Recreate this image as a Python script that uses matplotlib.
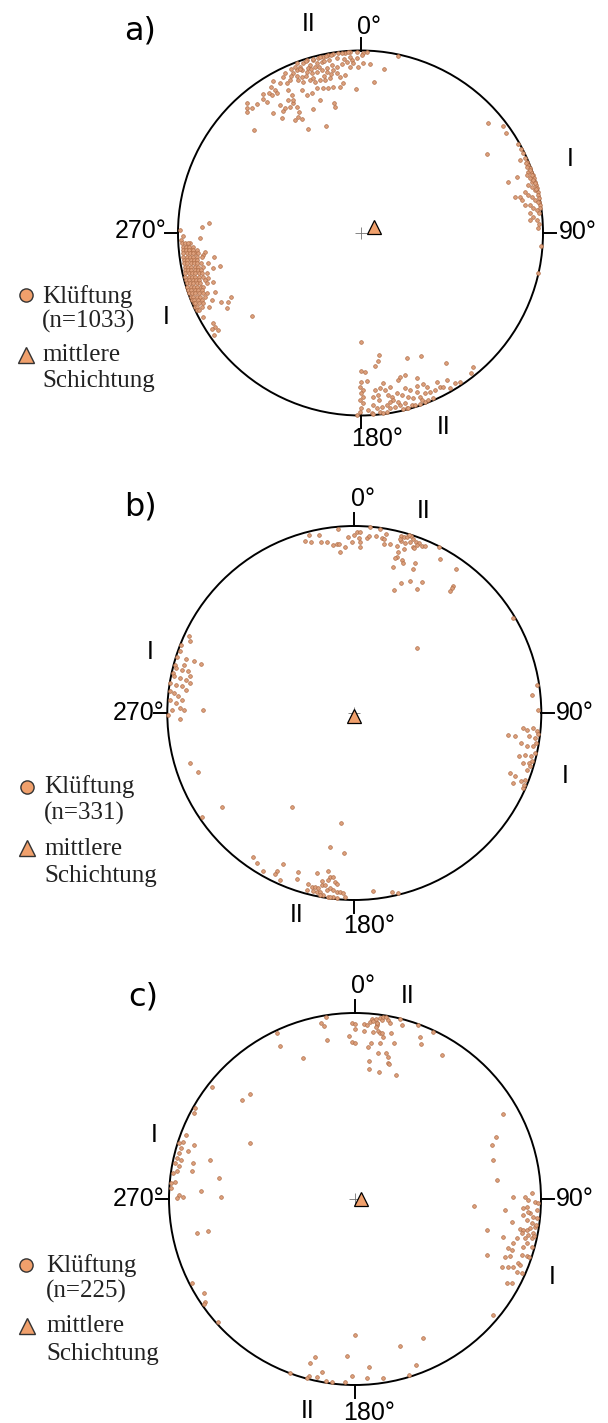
import matplotlib.pyplot as plt
from matplotlib.patches import Circle

# Polpunkte der Klüfte, Lambert-Netz (Ost, Nord), Radius 1 = Netzrand
joints_a = [
    # Gruppe II (N bis NW)
    (-0.584, 0.564), (-0.290, 0.572), (-0.189, 0.588), (0.207, 0.970), (0.129, 0.899), (0.074, 0.827),
    (-0.025, 0.789), (-0.143, 0.714), (-0.138, 0.692), (-0.258, 0.679), (-0.478, 0.656), (-0.428, 0.632),
    (-0.423, 0.670), (-0.620, 0.714), (-0.620, 0.687), (-0.620, 0.663), (-0.595, 0.683), (-0.569, 0.705),
    (-0.532, 0.760), (-0.532, 0.732), (-0.500, 0.765), (-0.489, 0.802), (-0.481, 0.831), (-0.468, 0.784),
    (-0.441, 0.701), (-0.414, 0.683), (-0.386, 0.692), (-0.368, 0.711), (-0.359, 0.619), (-0.341, 0.637),
    (-0.335, 0.665), (-0.350, 0.692), (-0.322, 0.626), (-0.377, 0.756), (-0.368, 0.729), (-0.399, 0.729),
    (-0.395, 0.784), (-0.405, 0.820), (-0.423, 0.857), (-0.414, 0.875), (-0.386, 0.838), (-0.368, 0.875),
    (-0.350, 0.893), (-0.332, 0.911), (-0.350, 0.930), (-0.313, 0.930), (-0.295, 0.948), (-0.277, 0.921),
    (-0.258, 0.948), (-0.231, 0.957), (-0.204, 0.966), (-0.176, 0.975), (-0.149, 0.981), (-0.121, 0.984),
    (-0.085, 0.988), (-0.058, 0.992), (-0.021, 0.992), (0.016, 0.988), (0.034, 0.990), (0.006, 0.975),
    (-0.021, 0.957), (-0.048, 0.948), (-0.076, 0.939), (-0.103, 0.926), (-0.131, 0.911), (-0.158, 0.921),
    (-0.185, 0.902), (-0.213, 0.893), (-0.240, 0.884), (-0.268, 0.875), (-0.295, 0.884), (-0.322, 0.857),
    (-0.341, 0.838), (-0.313, 0.829), (-0.277, 0.838), (-0.249, 0.829), (-0.222, 0.838), (-0.195, 0.838),
    (-0.167, 0.847), (-0.131, 0.875), (-0.112, 0.857), (-0.085, 0.866), (-0.094, 0.820), (-0.112, 0.802),
    (-0.149, 0.802), (-0.176, 0.793), (-0.204, 0.793), (-0.240, 0.793), (-0.268, 0.765), (-0.295, 0.756),
    (-0.322, 0.784), (-0.222, 0.729), (-0.185, 0.884), (-0.149, 0.893), (-0.249, 0.911), (-0.039, 0.930),
    (-0.012, 0.911), (0.016, 0.930), (0.052, 0.926), (-0.058, 0.911), (-0.213, 0.939), (-0.322, 0.893),
    (-0.286, 0.902), (-0.441, 0.820), (-0.459, 0.765), (-0.487, 0.756), (-0.511, 0.720),
    (-0.300, 0.940), (-0.260, 0.955), (-0.220, 0.965), (-0.190, 0.972), (-0.160, 0.978), (-0.100, 0.985),
    (-0.070, 0.990), (-0.240, 0.930), (-0.200, 0.940), (-0.170, 0.950), (-0.130, 0.960), (-0.090, 0.955),
    (-0.060, 0.965), (-0.270, 0.900), (-0.230, 0.910), (-0.330, 0.900), (-0.360, 0.910), (-0.380, 0.900),
    (-0.300, 0.860), (-0.260, 0.850), (-0.200, 0.860), (-0.160, 0.870), (-0.350, 0.860), (-0.380, 0.860),
    # Gruppe I (W)
    (-0.828, 0.057), (-0.868, 0.031), (-0.879, -0.029), (-0.989, 0.016), (-0.971, -0.016), (-0.985, -0.038),
    (-0.596, -0.453), (-0.710, -0.349), (-0.733, -0.413), (-0.724, -0.376), (-0.766, -0.376), (-0.770, -0.181),
    (-0.801, -0.130), (-0.810, -0.190), (-0.797, -0.321), (-0.806, -0.267), (-0.834, -0.248), (-0.816, -0.367),
    (-0.830, -0.404), (-0.861, -0.458), (-0.806, -0.495), (-0.797, -0.513), (-0.816, -0.528), (-0.779, -0.532),
    (-0.801, -0.559), (-0.852, -0.102), (-0.861, -0.121), (-0.834, -0.166), (-0.934, -0.057), (-0.953, -0.075),
    (-0.931, -0.093), (-0.907, -0.111),
    (-0.980, -0.057), (-0.962, -0.057), (-0.943, -0.057),
    (-0.974, -0.075), (-0.956, -0.075), (-0.938, -0.075), (-0.916, -0.075),
    (-0.974, -0.093), (-0.956, -0.093), (-0.938, -0.093), (-0.919, -0.093), (-0.897, -0.093),
    (-0.971, -0.111), (-0.953, -0.111), (-0.934, -0.111), (-0.916, -0.111), (-0.888, -0.111),
    (-0.971, -0.130), (-0.953, -0.130), (-0.934, -0.130), (-0.916, -0.130), (-0.897, -0.130), (-0.870, -0.130),
    (-0.967, -0.148), (-0.949, -0.148), (-0.931, -0.148), (-0.912, -0.148), (-0.894, -0.148),
    (-0.967, -0.166), (-0.949, -0.166), (-0.931, -0.166), (-0.912, -0.166), (-0.894, -0.166), (-0.875, -0.166),
    (-0.963, -0.184), (-0.945, -0.184), (-0.927, -0.184), (-0.908, -0.184), (-0.890, -0.184), (-0.861, -0.184),
    (-0.963, -0.203), (-0.945, -0.203), (-0.927, -0.203), (-0.908, -0.203), (-0.890, -0.203), (-0.872, -0.203),
    (-0.960, -0.221), (-0.940, -0.221), (-0.923, -0.221), (-0.905, -0.221), (-0.886, -0.221), (-0.868, -0.221),
    (-0.843, -0.221),
    (-0.960, -0.239), (-0.940, -0.239), (-0.923, -0.239), (-0.905, -0.239), (-0.886, -0.239), (-0.861, -0.239),
    (-0.956, -0.258), (-0.938, -0.258), (-0.919, -0.258), (-0.901, -0.258), (-0.883, -0.258), (-0.852, -0.258),
    (-0.953, -0.276), (-0.934, -0.276), (-0.916, -0.276), (-0.897, -0.276), (-0.879, -0.276), (-0.843, -0.276),
    (-0.949, -0.294), (-0.931, -0.294), (-0.912, -0.294), (-0.894, -0.294), (-0.875, -0.294), (-0.861, -0.294),
    (-0.945, -0.312), (-0.927, -0.312), (-0.908, -0.312), (-0.890, -0.312), (-0.870, -0.312),
    (-0.940, -0.331), (-0.923, -0.331), (-0.905, -0.331), (-0.886, -0.331), (-0.861, -0.331), (-0.843, -0.331),
    (-0.930, -0.349), (-0.916, -0.349), (-0.897, -0.349), (-0.879, -0.349), (-0.852, -0.349),
    (-0.925, -0.367), (-0.910, -0.367), (-0.892, -0.367), (-0.870, -0.367),
    (-0.915, -0.385), (-0.905, -0.385), (-0.886, -0.385), (-0.861, -0.385),
    (-0.905, -0.404), (-0.897, -0.404), (-0.870, -0.404),
    (-0.895, -0.422), (-0.883, -0.422),
    # Gruppe I (E)
    (0.700, 0.605), (0.783, 0.586), (0.797, 0.550), (0.691, 0.431), (0.810, 0.278), (0.856, 0.309),
    (0.847, 0.199), (0.874, 0.199), (0.883, 0.181), (0.892, 0.437), (0.880, 0.462), (0.865, 0.490),
    (0.901, 0.409), (0.911, 0.391), (0.920, 0.373), (0.929, 0.354), (0.936, 0.336), (0.945, 0.318),
    (0.950, 0.300), (0.955, 0.281), (0.960, 0.263), (0.965, 0.245), (0.970, 0.226), (0.975, 0.208),
    (0.978, 0.190), (0.980, 0.172), (0.982, 0.153), (0.985, 0.135), (0.920, 0.336), (0.911, 0.318),
    (0.929, 0.300), (0.938, 0.281), (0.920, 0.263), (0.938, 0.254), (0.956, 0.236), (0.901, 0.226),
    (0.920, 0.208), (0.938, 0.199), (0.956, 0.181), (0.970, 0.172), (0.901, 0.153), (0.929, 0.153),
    (0.947, 0.135), (0.965, 0.126), (0.980, 0.108), (0.929, 0.108), (0.947, 0.089), (0.965, 0.071),
    (0.980, 0.049), (0.929, 0.071), (0.975, 0.026), (0.990, -0.071), (0.970, -0.220), (0.911, 0.363),
    (0.905, 0.382), (0.930, 0.345), (0.940, 0.318), (0.945, 0.290), (0.955, 0.272), (0.960, 0.240),
    (0.874, 0.400),
    # Gruppe II (S bis SE)
    (0.001, -0.599), (0.101, -0.668), (0.098, -0.701), (0.079, -0.727), (0.253, -0.687), (0.332, -0.674),
    (0.468, -0.714), (0.618, -0.732), (0.604, -0.769), (0.001, -0.754), (0.025, -0.762), (0.001, -0.815),
    (0.034, -0.809), (-0.003, -0.842), (0.012, -0.860), (0.001, -0.879), (0.016, -0.900), (-0.003, -0.915),
    (0.012, -0.933), (0.001, -0.961), (-0.003, -0.979), (0.079, -0.860), (0.070, -0.897), (0.098, -0.888),
    (0.103, -0.915), (0.121, -0.824), (0.134, -0.860), (0.162, -0.842), (0.171, -0.897), (0.180, -0.915),
    (0.198, -0.879), (0.207, -0.806), (0.216, -0.787), (0.244, -0.778), (0.244, -0.851), (0.271, -0.860),
    (0.308, -0.796), (0.308, -0.869), (0.290, -0.906), (0.326, -0.897), (0.344, -0.827), (0.363, -0.842),
    (0.353, -0.879), (0.381, -0.869), (0.417, -0.815), (0.408, -0.860), (0.436, -0.842), (0.454, -0.842),
    (0.472, -0.806), (0.490, -0.851), (0.518, -0.820), (0.545, -0.815), (0.070, -0.942), (0.089, -0.961),
    (0.116, -0.952), (0.143, -0.942), (0.162, -0.961), (0.189, -0.952), (0.216, -0.942), (0.244, -0.933),
    (0.253, -0.961), (0.280, -0.942), (0.298, -0.945), (0.326, -0.935), (0.353, -0.925), (0.372, -0.915),
    (0.162, -0.924), (0.207, -0.924), (0.107, -0.979), (0.143, -0.979), (0.061, -0.988), (0.125, -0.985),
    (0.043, -0.970), (0.235, -0.965), (0.262, -0.960), (0.335, -0.915), (0.399, -0.906), (0.262, -0.897),
    (0.226, -0.888), (0.153, -0.888), (0.107, -0.851), (0.308, -0.838), (-0.021, -0.995), (0.070, -0.990),
]

joints_b = [
    # Gruppe II (N bis NE)
    (-0.240, 0.952), (-0.264, 0.922), (-0.232, 0.913), (-0.187, 0.952), (-0.180, 0.916), (-0.148, 0.913),
    (-0.112, 0.900), (-0.094, 0.902), (-0.080, 0.902), (-0.076, 0.863), (-0.050, 0.886), (-0.085, 0.982),
    (-0.032, 0.943), (-0.014, 0.916), (-0.002, 0.952), (0.016, 0.970), (0.030, 0.970), (0.027, 0.934),
    (0.030, 0.916), (0.030, 0.886), (0.066, 0.934), (0.080, 0.947), (0.084, 0.993), (0.116, 0.947),
    (0.137, 0.986), (0.146, 0.934), (0.159, 0.929), (0.170, 0.957), (0.159, 0.902), (0.191, 0.902),
    (0.227, 0.893), (0.235, 0.863), (0.230, 0.836), (0.253, 0.818), (0.262, 0.804), (0.218, 0.827),
    (0.209, 0.783), (0.248, 0.947), (0.266, 0.939), (0.283, 0.943), (0.301, 0.947), (0.248, 0.922),
    (0.271, 0.907), (0.298, 0.916), (0.312, 0.929), (0.330, 0.916), (0.348, 0.911), (0.316, 0.889),
    (0.333, 0.897), (0.360, 0.893), (0.378, 0.893), (0.266, 0.875), (0.319, 0.881), (0.324, 0.804),
    (0.312, 0.768), (0.455, 0.886), (0.458, 0.822), (0.542, 0.770), (0.298, 0.708), (0.248, 0.693),
    (0.212, 0.658), (0.337, 0.663), (0.360, 0.702), (0.530, 0.679), (0.521, 0.667), (0.512, 0.652),
    (0.290, 0.950), (0.244, 0.929),
    # Gruppe I (E)
    (0.851, 0.509), (0.333, 0.348), (0.975, 0.152), (0.948, 0.098), (0.985, 0.018), (0.820, -0.116),
    (0.861, -0.125), (0.903, -0.080), (0.923, -0.089), (0.954, -0.080), (0.975, -0.098), (0.934, -0.125),
    (0.965, -0.134), (0.985, -0.110), (0.892, -0.161), (0.923, -0.179), (0.954, -0.179), (0.970, -0.161),
    (0.882, -0.232), (0.913, -0.223), (0.944, -0.232), (0.965, -0.214), (0.903, -0.268), (0.934, -0.268),
    (0.950, -0.259), (0.940, -0.286), (0.923, -0.304), (0.830, -0.321), (0.861, -0.339), (0.892, -0.366),
    (0.915, -0.357), (0.851, -0.375), (0.900, -0.400), (0.905, -0.384),
    # Gruppe I (W)
    (-0.884, 0.414), (-0.880, 0.384), (-0.925, 0.366), (-0.932, 0.330), (-0.901, 0.289), (-0.859, 0.277),
    (-0.818, 0.263), (-0.960, 0.259), (-0.952, 0.241), (-0.921, 0.232), (-0.890, 0.223), (-0.970, 0.214),
    (-0.963, 0.196), (-0.932, 0.188), (-0.901, 0.179), (-0.880, 0.161), (-0.984, 0.161), (-0.952, 0.152),
    (-0.921, 0.143), (-0.901, 0.125), (-0.985, 0.116), (-0.963, 0.107), (-0.942, 0.089), (-0.921, 0.071),
    (-0.984, 0.071), (-0.952, 0.054), (-0.932, 0.027), (-0.911, 0.018), (-0.973, 0.018), (-0.994, -0.009),
    (-0.932, -0.032), (-0.807, 0.014), (-0.950, 0.300), (-0.911, 0.259), (-0.880, 0.196),
    # Streuung und Gruppe II (S bis SW)
    (-0.876, -0.268), (-0.834, -0.318), (-0.710, -0.500), (-0.331, -0.504), (-0.813, -0.557),
    (-0.073, -0.587), (-0.130, -0.718), (-0.053, -0.749), (-0.540, -0.768), (-0.522, -0.804), (-0.486, -0.843),
    (-0.379, -0.808), (-0.415, -0.843), (-0.424, -0.861), (-0.397, -0.893), (-0.299, -0.852), (-0.308, -0.889),
    (-0.201, -0.857), (-0.139, -0.843), (-0.130, -0.875), (-0.139, -0.893), (-0.116, -0.879), (-0.103, -0.902),
    (-0.094, -0.915), (-0.175, -0.897), (-0.175, -0.920), (-0.246, -0.915), (-0.228, -0.929), (-0.210, -0.929),
    (-0.192, -0.938), (-0.219, -0.950), (-0.201, -0.955), (-0.183, -0.955), (-0.157, -0.920), (-0.148, -0.947),
    (-0.130, -0.938), (-0.112, -0.947), (-0.094, -0.955), (-0.076, -0.955), (-0.059, -0.964), (-0.166, -0.973),
    (-0.139, -0.986), (-0.112, -0.982), (-0.094, -0.990), (-0.130, -0.985), (-0.183, -0.975), (-0.255, -0.947),
    (0.098, -0.950), (0.200, -0.955), (0.235, -0.961), (-0.050, -0.982),
]

joints_c = [
    # Gruppe II (N bis NE)
    (-0.156, 0.977), (-0.185, 0.944), (-0.167, 0.930), (-0.152, 0.855), (-0.278, 0.760), (-0.018, 0.948),
    (0.000, 0.941), (0.000, 0.912), (-0.030, 0.876), (-0.018, 0.846), (0.000, 0.837), (0.048, 0.941),
    (0.063, 0.935), (0.081, 0.953), (0.090, 0.966), (0.099, 0.959), (0.113, 0.966), (0.120, 0.948),
    (0.134, 0.971), (0.143, 0.962), (0.152, 0.980), (0.167, 0.977), (0.179, 0.962), (0.188, 0.948),
    (0.116, 0.935), (0.113, 0.923), (0.125, 0.905), (0.134, 0.894), (0.143, 0.891), (0.095, 0.900),
    (0.048, 0.905), (0.152, 0.873), (0.192, 0.894), (0.242, 0.966), (0.251, 0.935), (0.341, 0.935),
    (0.421, 0.900), (0.349, 0.873), (0.353, 0.833), (0.466, 0.774), (0.084, 0.840), (0.134, 0.837),
    (0.072, 0.815), (0.125, 0.787), (0.167, 0.787), (0.179, 0.765), (0.210, 0.840), (0.077, 0.744),
    (0.179, 0.733), (0.185, 0.726), (0.073, 0.699), (0.131, 0.681), (0.220, 0.668), (0.116, 0.944),
    # Streuung und Gruppe I (W)
    (-0.417, 0.892), (-0.402, 0.821), (-0.563, 0.566), (-0.610, 0.530), (-0.767, 0.600), (-0.860, 0.490),
    (-0.865, 0.462), (-0.567, 0.300),
    (-0.906, 0.345), (-0.927, 0.309), (-0.944, 0.300), (-0.938, 0.274), (-0.948, 0.247), (-0.958, 0.220),
    (-0.938, 0.211), (-0.969, 0.193), (-0.948, 0.175), (-0.958, 0.148), (-0.979, 0.139), (-0.969, 0.094),
    (-0.990, 0.085), (-0.990, 0.058), (-0.948, 0.022), (-0.927, 0.013), (-0.865, 0.291), (-0.896, 0.256),
    (-0.869, 0.193), (-0.875, 0.148), (-0.781, 0.207), (-0.729, 0.112), (-0.829, 0.044), (-0.719, 0.010),
    (-0.958, 0.004),
    (-0.850, -0.184), (-0.792, -0.171), (-0.875, -0.453), (-0.813, -0.507), (-0.806, -0.552), (-0.810, -0.565),
    (-0.735, -0.659),
    # Gruppe II (S)
    (0.000, -0.731), (0.365, -0.749), (0.240, -0.790), (-0.215, -0.851), (-0.042, -0.844), (-0.240, -0.883),
    (-0.177, -0.928), (0.077, -0.905), (0.327, -0.892), (-0.348, -0.934), (-0.250, -0.951), (-0.202, -0.955),
    (-0.260, -0.960), (-0.015, -0.951), (0.063, -0.964), (0.152, -0.964), (0.292, -0.946), (-0.156, -0.980),
    (-0.125, -0.985), (-0.052, -0.985), (0.798, 0.458),
    # Gruppe I (E)
    (0.758, 0.335), (0.735, 0.290), (0.740, 0.210), (0.762, 0.102), (0.640, -0.038), (0.851, 0.013),
    (0.806, -0.059), (0.842, -0.122), (0.708, -0.167), (0.797, -0.203), (0.708, -0.301), (0.914, 0.013),
    (0.932, -0.005), (0.923, -0.041), (0.905, -0.050), (0.950, 0.030), (0.968, -0.014), (0.986, -0.023),
    (0.977, -0.059), (0.941, -0.077), (0.959, -0.095), (0.977, -0.104), (0.923, -0.113), (0.950, -0.131),
    (0.968, -0.149), (0.975, -0.140), (0.887, -0.163), (0.905, -0.167), (0.923, -0.167), (0.941, -0.158),
    (0.896, -0.185), (0.932, -0.194), (0.959, -0.185), (0.869, -0.211), (0.914, -0.211), (0.950, -0.211),
    (0.960, -0.200), (0.923, -0.238), (0.950, -0.256), (0.905, -0.256), (0.851, -0.238), (0.824, -0.265),
    (0.842, -0.274), (0.896, -0.301), (0.923, -0.306), (0.935, -0.310), (0.806, -0.314), (0.833, -0.306),
    (0.789, -0.364), (0.824, -0.364), (0.851, -0.364), (0.878, -0.346), (0.887, -0.355), (0.869, -0.391),
    (0.896, -0.400), (0.815, -0.453), (0.842, -0.453), (0.744, -0.624), (0.905, -0.086), (0.932, -0.068),
]

panel_letters = ["a)", "b)", "c)"]
joint_counts = [1033, 331, 225]
# Pol der mittleren Schichtung (Ost, Nord)
bedding_east = [0.074, 0.001, 0.032]
bedding_north = [0.033, -0.016, 0.000]
direction_labels = ["0°", "90°", "180°", "270°"]

W, H = 608, 1423
POINT_FACE = "#DDA07C"
POINT_EDGE = "#B06E48"
MARK_FACE = "#F0A06C"

# Lage der Panels in Pixeln: Mittelpunkt, Radius, Bandgrenzen
panels = [
    dict(cx=360.5, cy=233.0, r=182.5, top=0, bottom=470),
    dict(cx=354.3, cy=713.0, r=187.0, top=470, bottom=950),
    dict(cx=355.0, cy=1199.0, r=186.0, top=950, bottom=H),
]

# Textpositionen in Pixeln (x, y) je Panel
letter_pos = [(140, 31), (140, 507), (143, 997)]
deg_pos = [
    [(357, 27), (559, 232), (351, 439), (166, 231)],
    [(351, 499), (556, 713), (343, 926), (164, 713)],
    [(351, 986), (556, 1199), (343, 1413), (164, 1199)],
]
set_labels = [
    [("II", 309, 24), ("I", 570, 159), ("I", 166, 317), ("II", 444, 427)],
    [("II", 424, 511), ("I", 150, 652), ("I", 565, 776), ("II", 297, 915)],
    [("II", 408, 996), ("I", 154, 1135), ("I", 552, 1277), ("II", 308, 1411)],
]
# Legende: Kreis, Dreieck, Textanfang, Grundlinien der vier Zeilen
legend_pos = [
    dict(circ=(25.5, 295), tri=(26.5, 355), x=42, lines=[303, 328, 361, 387]),
    dict(circ=(27, 787), tri=(27, 848), x=44, lines=[793, 820, 855, 882]),
    dict(circ=(26.5, 1265), tri=(27, 1326), x=46, lines=[1272, 1298, 1332, 1360]),
]

fig = plt.figure(figsize=(W / 100, H / 100), dpi=100)
fig.patch.set_facecolor("white")

sans = ["Liberation Sans", "DejaVu Sans"]
serif = ["Liberation Serif", "DejaVu Serif"]


def fx(x):
    return x / W


def fy(y):
    return 1 - y / H


all_joints = [joints_a, joints_b, joints_c]

for i, p in enumerate(panels):
    ax = fig.add_axes([0, fy(p["bottom"]), 1, (p["bottom"] - p["top"]) / H])
    ax.set_xlim((0 - p["cx"]) / p["r"], (W - p["cx"]) / p["r"])
    ax.set_ylim((p["cy"] - p["bottom"]) / p["r"], (p["cy"] - p["top"]) / p["r"])
    ax.axis("off")

    ax.add_patch(Circle((0, 0), 1, fill=False, ec="black", lw=1.4, zorder=2))
    tick = 0.07
    ax.plot([0, 0], [1, 1 + tick], color="black", lw=1.4)
    ax.plot([0, 0], [-1, -1 - tick], color="black", lw=1.4)
    ax.plot([1, 1 + tick], [0, 0], color="black", lw=1.4)
    ax.plot([-1, -1 - tick], [0, 0], color="black", lw=1.4)
    ax.plot(0, 0, marker="+", ms=9, mew=0.6, color="0.45", zorder=2)

    east = [pt[0] for pt in all_joints[i]]
    north = [pt[1] for pt in all_joints[i]]
    ax.scatter(east, north, s=7, c=POINT_FACE, edgecolors=POINT_EDGE, linewidths=0.5, zorder=3)

    ax.plot(bedding_east[i], bedding_north[i], marker="^", ms=10, mfc=MARK_FACE, mec="black",
            mew=0.9, zorder=4)

    # Beschriftung
    lx, ly = letter_pos[i]
    fig.text(fx(lx), fy(ly), panel_letters[i], fontsize=23, family="DejaVu Sans", ha="center", va="center")
    aligns = ["left", "left", "left", "right"]
    for lab, (tx, ty), al in zip(direction_labels, deg_pos[i], aligns):
        fig.text(fx(tx), fy(ty), lab, fontsize=18, family=sans, ha=al, va="center")
    for lab, tx, ty in set_labels[i]:
        fig.text(fx(tx), fy(ty), lab, fontsize=18, family=sans, ha="center", va="center")

    lg = legend_pos[i]
    fig.lines.append(plt.Line2D([fx(lg["circ"][0])], [fy(lg["circ"][1])], transform=fig.transFigure,
                                marker="o", ms=9.5, mfc=MARK_FACE, mec="#333333", mew=1.0, ls=""))
    fig.lines.append(plt.Line2D([fx(lg["tri"][0])], [fy(lg["tri"][1])], transform=fig.transFigure,
                                marker="^", ms=11, mfc=MARK_FACE, mec="#333333", mew=1.0, ls=""))
    texts = ["Klüftung", f"(n={joint_counts[i]})", "mittlere", "Schichtung"]
    for t, base in zip(texts, lg["lines"]):
        fig.text(fx(lg["x"]), fy(base), t, fontsize=18, family=serif, ha="left", va="baseline",
                 color="#222222")

fig.savefig("out.png", dpi=100, facecolor="white")
